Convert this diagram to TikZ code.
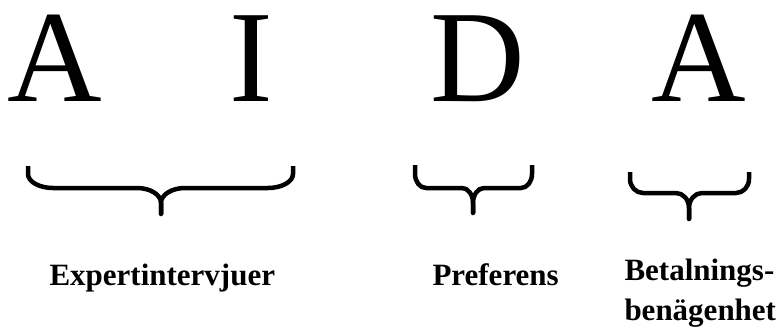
\documentclass[tikz,border=0pt]{standalone}
\usepackage{fontspec}
\setmainfont{Liberation Serif}
\newcommand{\curlybrace}[8]{% #1 L, #2 R, #3 top, #4 line, #5 tip, #6 centre, #7 corner, #8 bump
  \draw[bracestyle] (#1,#3) -- (#1,#4-14) .. controls (#1,#4-6.3) and (#1+0.448*#7,#4) .. (#1+#7,#4)
     -- (#6-#8,#4) .. controls (#6-0.448*#8,#4) and (#6,#4+6.7) .. (#6,#4+15) -- (#6,#5);
  \draw[bracestyle] (#2,#3) -- (#2,#4-14) .. controls (#2,#4-6.3) and (#2-0.448*#7,#4) .. (#2-#7,#4)
     -- (#6+#8,#4) .. controls (#6+0.448*#8,#4) and (#6,#4+6.7) .. (#6,#4+15) -- (#6,#5);
  \fill (#6,#5) circle (2.25pt);
}
\begin{document}
\begin{tikzpicture}[x=1pt,y=-1pt,
  bigletter/.style={inner sep=0pt,outer sep=0pt,anchor=base,text height=87pt,text depth=0pt,font=\fontsize{131}{131}\selectfont},
  labeltext/.style={inner sep=0pt,outer sep=0pt,anchor=base west,font=\fontsize{31}{42}\selectfont\bfseries},
  bracestyle/.style={line width=4.5pt,line cap=butt,line join=round}]
\useasboundingbox (0,0) rectangle (784,327);
\node[bigletter] (lA) at (55,101) {A};
\node[bigletter] (lI) at (251,101) {I};
\node[bigletter] (lD) at (478,101) {D};
\node[bigletter] (lA2) at (699,101) {A};
\curlybrace{28}{293}{166}{188}{214}{161}{25}{24}
\curlybrace{415}{532}{165}{188}{213}{473}{11}{11}
\curlybrace{630}{749}{172}{193}{219}{689}{13}{13}
\node[labeltext] (expert) at (49.5,285) {Expertintervjuer};
\node[labeltext] (pref) at (432.5,285) {Preferens};
\node[labeltext] (betal1) at (624.5,280) {Betalnings-};
\node[labeltext] (betal2) at (624.5,320) {benägenhet};
\end{tikzpicture}
\end{document}
